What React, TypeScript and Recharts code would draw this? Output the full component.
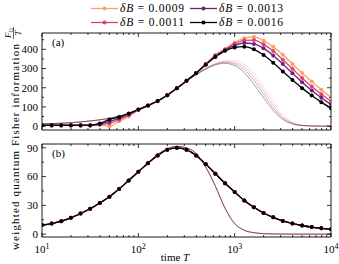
import React from 'react';
import { LineChart, Line, XAxis, YAxis } from 'recharts';

// time grid (log spaced, 10 points per decade)
const times = [10, 12.59, 15.85, 19.95, 25.12, 31.62, 39.81, 50.12, 63.1, 79.43, 100, 125.9, 158.5, 199.5, 251.2, 316.2, 398.1, 501.2, 631, 794.3, 1000, 1259, 1585, 1995, 2512, 3162, 3981, 5012, 6310, 7943, 10000];

const series = ['0.0009', '0.0011', '0.0013', '0.0016'];
const colors = ['#fd9f6c', '#d8456c', '#71207f', '#000000'];

// panel (a): marked series
const a0009 = [4, 4, 4, 4, 4, 4, 5, 0, 25, 50, 83, 106, 130, 161, 197, 236, 277, 323, 370, 402, 436, 458, 465, 446, 413, 372, 324, 277, 232, 190, 150];
const a0011 = [4, 4, 4, 4, 4, 4, 8, 14, 34, 57, 85, 107, 131, 161, 197, 236, 277, 323, 368, 399, 429, 447, 448, 426, 391, 346, 299, 251, 206, 166, 130];
const a0013 = [4, 4, 4, 4, 4, 4, 10, 24, 41, 62, 86, 107, 131, 161, 197, 236, 277, 322, 365, 396, 420, 433, 428, 405, 368, 323, 276, 229, 186, 148, 112];
const a0016 = [5, 5, 5, 5, 5, 5, 14, 35, 48, 66, 87, 108, 131, 161, 197, 236, 276, 320, 360, 392, 410, 414, 400, 370, 330, 285, 240, 198, 160, 125, 93];

// panel (a): thin reference curves
const ta0009 = [12, 13.5, 15.5, 18, 22, 27, 33, 41, 52, 67, 87, 108, 131, 161, 196, 234, 270, 302, 326, 341, 342, 322, 276, 206, 128, 62, 22, 6, 1.5, 0.4, 0.1];
const ta0011 = [12, 13.5, 15.5, 18, 22, 27, 33, 41, 52, 67, 87, 108, 131, 161, 196, 234, 269, 300, 324, 336, 332, 307, 256, 186, 110, 50, 17, 5, 1.2, 0.3, 0.1];
const ta0013 = [12, 13.5, 15.5, 18, 22, 27, 33, 41, 52, 67, 87, 108, 131, 161, 196, 233, 268, 299, 322, 332, 324, 293, 238, 167, 95, 42, 14, 4, 1, 0.3, 0.1];
const ta0016 = [12, 13.5, 15.5, 18, 22, 27, 33, 41, 52, 67, 87, 108, 131, 161, 196, 233, 267, 297, 319, 327, 315, 278, 218, 148, 82, 35, 11, 3, 1, 0.3, 0.1];

// panel (b): marked series (all δB coincide)
const bMarked = [9.5, 11, 13.5, 17, 21.5, 26.5, 32.5, 39, 47, 56, 65, 74, 82, 88, 90, 88, 82, 73, 63, 53, 44, 35, 28, 22, 17.5, 13.8, 11.2, 9, 7.3, 6.1, 5];
// panel (b): thin reference curves
const bThin = [9.3, 10.8, 13.3, 16.8, 21.3, 26.5, 32.5, 39.2, 47.3, 56.5, 65.5, 74.5, 83, 89, 91.5, 90, 84, 70, 50, 27, 11, 4, 1.5, 0.5, 0.2, 0.1, 0, 0, 0, 0, 0];

const xMajor = [10, 100, 1000, 10000];
const xTicks = [10, 20, 30, 40, 50, 60, 70, 80, 90, 100, 200, 300, 400, 500, 600, 700, 800, 900, 1000, 2000, 3000, 4000, 5000, 6000, 7000, 8000, 9000, 10000];
const xExp = ['1', '2', '3', '4'];

const yTicksA = [0, 50, 100, 150, 200, 250, 300, 350, 400, 450];
const yMajorA = [0, 100, 200, 300, 400];
const yTicksB = [0, 15, 30, 45, 60, 75, 90];
const yMajorB = [0, 30, 60, 90];

const FONT = 'Liberation Serif';

const dataA = times.map((t, i) => ({
  t,
  a0009: a0009[i], a0011: a0011[i], a0013: a0013[i], a0016: a0016[i],
  ta0009: ta0009[i], ta0011: ta0011[i], ta0013: ta0013[i], ta0016: ta0016[i],
}));
const dataB = times.map((t, i) => ({
  t,
  b0009: bMarked[i], b0011: bMarked[i], b0013: bMarked[i], b0016: bMarked[i],
  tb0009: bThin[i], tb0011: bThin[i], tb0013: bThin[i], tb0016: bThin[i],
}));

const makeXTick = (dir: number, labels: boolean) => (props: any) => {
  const { x, y, payload } = props;
  const v = payload.value;
  const idx = xMajor.indexOf(v);
  const len = idx >= 0 ? 4 : 2;
  return (
    <g>
      <line x1={x} x2={x} y1={y} y2={y + dir * len} stroke="#000" strokeWidth={0.8} />
      {labels && idx >= 0 && (
        <text x={x} y={y + 16} textAnchor="middle" fontFamily={FONT} fontSize={11} fill="#000">
          10<tspan dy={-4} fontSize={8}>{xExp[idx]}</tspan>
        </text>
      )}
    </g>
  );
};

const makeYTick = (dir: number, majors: number[], labels: boolean) => (props: any) => {
  const { x, y, payload } = props;
  const v = payload.value;
  const major = majors.indexOf(v) >= 0;
  const len = major ? 4 : 2;
  return (
    <g>
      <line x1={x} x2={x + dir * len} y1={y} y2={y} stroke="#000" strokeWidth={0.8} />
      {labels && major && (
        <text x={x - 4} y={y + 3.8} textAnchor="end" fontFamily={FONT} fontSize={11} fill="#000">
          {v}
        </text>
      )}
    </g>
  );
};

const axisLine = { stroke: '#000', strokeWidth: 0.9 };

function Panel({ data, keys, thinKeys, domain, yTicks, yMajors, height, margin, xLabels }: any) {
  return (
    <LineChart width={339} height={height} data={data} margin={margin}>
      <XAxis xAxisId="b" dataKey="t" type="number" scale="log" domain={[10, 10000]} allowDataOverflow
        ticks={xTicks} interval={0} height={2} tickSize={0} tickMargin={0} axisLine={axisLine}
        tickLine={false} tick={makeXTick(-1, xLabels)} orientation="bottom" />
      <XAxis xAxisId="t" dataKey="t" type="number" scale="log" domain={[10, 10000]} allowDataOverflow
        ticks={xTicks} interval={0} height={2} tickSize={0} tickMargin={0} axisLine={axisLine}
        tickLine={false} tick={makeXTick(1, false)} orientation="top" />
      <YAxis yAxisId="l" type="number" domain={domain} allowDataOverflow ticks={yTicks} interval={0}
        width={30} tickSize={0} tickMargin={0} axisLine={axisLine} tickLine={false}
        tick={makeYTick(1, yMajors, true)} orientation="left" />
      <YAxis yAxisId="r" type="number" domain={domain} allowDataOverflow ticks={yTicks} interval={0}
        width={2} tickSize={0} tickMargin={0} axisLine={axisLine} tickLine={false}
        tick={makeYTick(-1, yMajors, false)} orientation="right" />
      {thinKeys.map((k: string, i: number) => (
        <Line key={k} xAxisId="b" yAxisId="l" dataKey={k} type="monotone" stroke={colors[i]}
          strokeOpacity={0.4} strokeWidth={0.9} dot={false} isAnimationActive={false} />
      ))}
      {keys.map((k: string, i: number) => (
        <Line key={k} xAxisId="b" yAxisId="l" dataKey={k} type="monotone" stroke={colors[i]}
          strokeWidth={1.3} dot={{ r: 2, fill: colors[i], stroke: colors[i], strokeWidth: 0 }}
          isAnimationActive={false} />
      ))}
    </LineChart>
  );
}

function LegendItem({ x, y, i }: { x: number; y: number; i: number }) {
  return (
    <g>
      <line x1={x} x2={x + 27} y1={y} y2={y} stroke={colors[i]} strokeWidth={1.3} />
      <circle cx={x + 13.5} cy={y} r={2} fill={colors[i]} />
      <text x={x + 29} y={y + 3.8} fontFamily={FONT} fontSize={11.5} fill="#000" textLength={64} lengthAdjust="spacing">
        <tspan fontStyle="italic">δB</tspan> = 0.{series[i].slice(2)}
      </text>
    </g>
  );
}

export default function App() {
  return (
    <div style={{ position: 'absolute', left: 0, top: 0, width: 339, height: 264, background: '#fff' }}>
      <div style={{ position: 'absolute', left: 0, top: 0 }}>
        <Panel data={dataA} keys={['a0009', 'a0011', 'a0013', 'a0016']} thinKeys={['ta0009', 'ta0011', 'ta0013', 'ta0016']}
          domain={[-20, 485]} yTicks={yTicksA} yMajors={yMajorA} height={140}
          margin={{ top: 31, right: 6, bottom: 8, left: 12 }} xLabels={false} />
      </div>
      <div style={{ position: 'absolute', left: 0, top: 140 }}>
        <Panel data={dataB} keys={['b0009', 'b0011', 'b0013', 'b0016']} thinKeys={['tb0009', 'tb0011', 'tb0013', 'tb0016']}
          domain={[-3, 94]} yTicks={yTicksB} yMajors={yMajorB} height={124}
          margin={{ top: 2, right: 6, bottom: 25, left: 12 }} xLabels={true} />
      </div>
      <svg width={339} height={264} style={{ position: 'absolute', left: 0, top: 0, pointerEvents: 'none' }}>
        <LegendItem x={91} y={8.5} i={0} />
        <LegendItem x={190} y={8.5} i={2} />
        <LegendItem x={91} y={22.5} i={1} />
        <LegendItem x={190} y={22.5} i={3} />
        <text x={52} y={46} fontFamily={FONT} fontSize={11} fill="#000">(a)</text>
        <text x={52} y={156.5} fontFamily={FONT} fontSize={11} fill="#000">(b)</text>
        <text x={175} y={261} textAnchor="middle" fontFamily={FONT} fontSize={11} fill="#000">
          time <tspan fontStyle="italic">T</tspan>
        </text>
        <text transform="translate(19,147) rotate(-90)" textAnchor="middle" fontFamily={FONT} fontSize={11}
          fill="#000" textLength={206} lengthAdjust="spacing">
          weighted quantum Fisher information
        </text>
        <g transform="translate(13,33) rotate(-90)">
          <text x={0} y={-2} textAnchor="middle" fontFamily={FONT} fontSize={9} fontStyle="italic" fill="#000">
            F<tspan dy={2} fontSize={6} fontStyle="normal">Q</tspan>
          </text>
          <line x1={-6} x2={6} y1={0.5} y2={0.5} stroke="#000" strokeWidth={0.6} />
          <text x={0} y={8} textAnchor="middle" fontFamily={FONT} fontSize={9} fontStyle="italic" fill="#000">T</text>
        </g>
      </svg>
    </div>
  );
}
